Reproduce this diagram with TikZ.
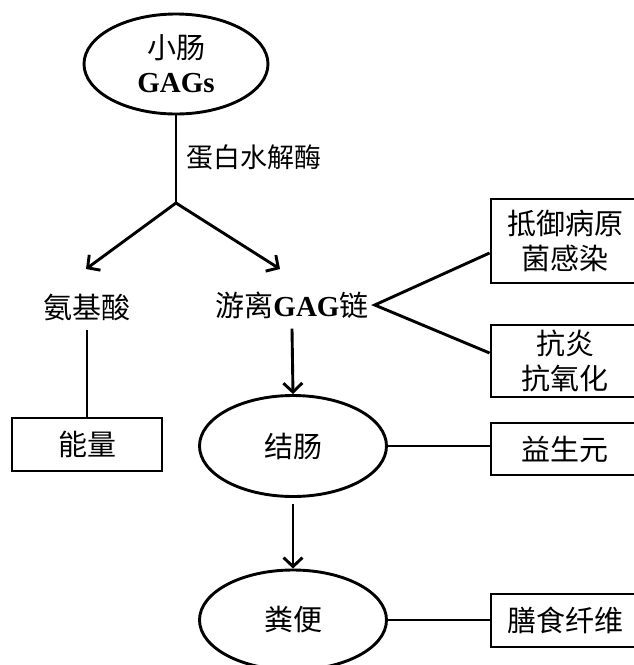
\documentclass[tikz,border=0pt]{standalone}
\usepackage{fontspec}
\setmainfont{Liberation Serif}
\newfontfamily\cjk{Noto Sans CJK SC}
\newcommand\zhtext[1]{{\cjk #1}}
\usetikzlibrary{arrows.meta,shapes.geometric}
\begin{document}
\begin{tikzpicture}[x=1pt,y=-1pt,
  every node/.style={font=\fontsize{29}{35}\selectfont},
  conn/.style={line width=2.9pt, draw=black},
  arrowline/.style={conn, -{Straight Barb[length=9pt,width=19pt]}},
  oval/.style={ellipse, draw, line width=2.9pt, minimum width=187pt, minimum height=100pt, inner sep=0pt, align=center},
  boxn/.style={rectangle, draw, line width=2.9pt, minimum width=148pt, align=center, inner sep=0pt},
  lbl/.style={inner xsep=6pt, inner ysep=9pt}]
\clip (0,0) rectangle (634,665);
% nodes
\node[oval, minimum width=184pt, font=\fontsize{29}{34}\selectfont] (si) at (176,64) {\zhtext{小肠}\\\textbf{GAGs}};
\node[anchor=west, inner sep=0pt, font=\fontsize{27}{32}\selectfont] (enz) at (186,157) {\zhtext{蛋白水解酶}};
\coordinate (br) at (176,203);
\coordinate (tipL) at (86,269);
\coordinate (tipR) at (280,269);
\node[lbl] (amino) at (87,307) {\zhtext{氨基酸}};
\node[lbl, inner ysep=10pt] (gag) at (292,305) {\zhtext{游离}\textbf{GAG}\zhtext{链}};
\node[boxn, minimum height=84pt] (box1) at (565,241) {\zhtext{抵御病原}\\\zhtext{菌感染}};
\node[boxn, minimum height=72pt] (box2) at (565,361) {\zhtext{抗炎}\\\zhtext{抗氧化}};
\node[boxn, minimum width=150pt, minimum height=53pt] (energy) at (87,444.5) {\zhtext{能量}};
\node[oval, minimum height=101pt] (colon) at (293,446) {\zhtext{结肠}};
\node[boxn, minimum height=52pt] (prob) at (565,449) {\zhtext{益生元}};
\node[oval] (feces) at (293,620) {\zhtext{粪便}};
\node[boxn, minimum height=53pt] (fiber) at (565,620.5) {\zhtext{膳食纤维}};
% connectors
\draw[conn] (si.south) -- (br);
\draw[arrowline] (br) -- (tipL);
\draw[arrowline] (br) -- (tipR);
\draw[conn] ([yshift=-12pt]box1.west) -- (gag.east) -- ([yshift=8pt]box2.west);
\draw[conn] (amino.south) -- (energy.north);
\draw[arrowline] (gag.south) -- (colon.north);
\draw[conn] (colon.east) -- (colon.east -| prob.west);
\draw[arrowline, shorten <=6pt] (colon.south) -- (feces.north);
\draw[conn] (feces.east) -- (feces.east -| fiber.west);
\end{tikzpicture}
\end{document}
